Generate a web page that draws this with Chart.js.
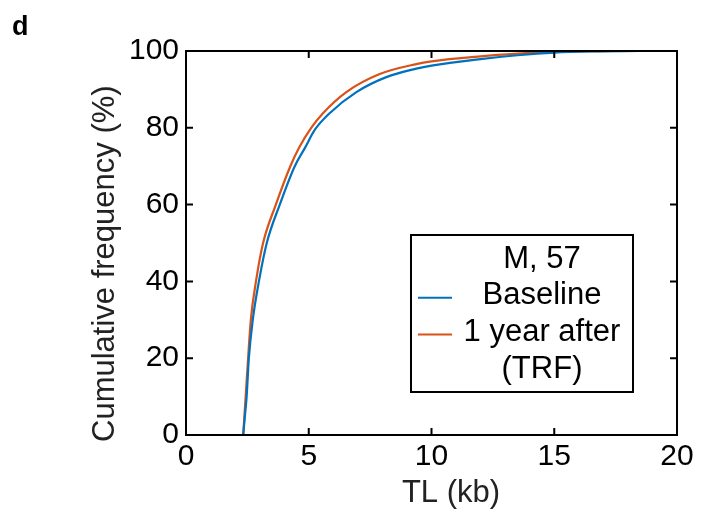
<!DOCTYPE html>
<html>
<head>
<meta charset="utf-8">
<script src="https://cdn.jsdelivr.net/npm/chart.js@4.4.3/dist/chart.umd.min.js"></script>
<style>
  html, body { margin: 0; padding: 0; background: #fff; }
  #wrap { width: 714px; height: 517px; }
</style>
</head>
<body>
<div id="wrap"><canvas id="cdf" width="714" height="517"></canvas></div>
<script>
// cumulative TL distribution
const baselineKb  = [2.33, 2.40, 2.47, 2.56, 2.72, 2.97, 3.29, 3.82, 4.43, 4.84, 5.25, 5.85, 6.94, 8.16, 9.38, 10, 12, 13.5, 15, 16.5, 18.5];
const baselinePct = [0, 5, 10, 20, 30, 40, 50, 60, 70, 74.7, 79.5, 83.8, 89.3, 93.2, 95.4, 96.2, 97.9, 98.9, 99.6, 99.9, 100];
const afterKb  = [2.33, 2.38, 2.43, 2.53, 2.64, 2.85, 3.14, 3.66, 4.25, 4.62, 5.1, 5.58, 6.53, 7.89, 9.38, 10, 12, 13.5, 15, 17.4];
const afterPct = [0, 5, 10, 20, 30, 40, 50, 60, 70, 75, 80, 83.8, 89.3, 94.0, 96.6, 97.3, 98.6, 99.3, 99.8, 100];

const seriesLabels = ['Baseline', ['1 year after', '(TRF)']];
const legendTitle = 'M, 57';
const panelLetter = 'd';
const xTitle = 'TL (kb)';
const yTitle = 'Cumulative frequency (%)';
const xTicks = [0, 5, 10, 15, 20];
const yTicks = [0, 20, 40, 60, 80, 100];

const FONT = '"Liberation Sans", Arial, Helvetica, sans-serif';
const BLUE = '#0072BD';
const ORANGE = '#D95319';

const toPoints = (xs, ys) => xs.map((x, i) => ({ x, y: ys[i] }));

// frame, inward ticks on all four sides, axis titles, legend box, panel letter
const decorations = {
  id: 'decorations',
  afterDraw(chart) {
    const { ctx, chartArea: a, scales } = chart;
    const tl = 7;
    ctx.save();
    ctx.strokeStyle = '#000';
    ctx.lineWidth = 2;
    ctx.strokeRect(a.left, a.top, a.right - a.left, a.bottom - a.top);
    ctx.beginPath();
    scales.x.ticks.forEach(t => {
      const px = scales.x.getPixelForValue(t.value);
      ctx.moveTo(px, a.bottom); ctx.lineTo(px, a.bottom - tl);
      ctx.moveTo(px, a.top); ctx.lineTo(px, a.top + tl);
    });
    scales.y.ticks.forEach(t => {
      const py = scales.y.getPixelForValue(t.value);
      ctx.moveTo(a.left, py); ctx.lineTo(a.left + tl, py);
      ctx.moveTo(a.right, py); ctx.lineTo(a.right - tl, py);
    });
    ctx.stroke();

    // axis titles (placed off-centre as in the original figure)
    ctx.fillStyle = '#222';
    ctx.font = '31px ' + FONT;
    ctx.textAlign = 'center';
    ctx.textBaseline = 'alphabetic';
    ctx.fillText(xTitle, a.left + 265, 502);
    ctx.save();
    ctx.translate(105, a.bottom + 7);
    ctx.rotate(-Math.PI / 2);
    ctx.textAlign = 'left';
    ctx.textBaseline = 'middle';
    ctx.fillText(yTitle, 0, 0);
    ctx.restore();

    // legend
    const bx = a.left + 225, by = a.top + 184, bw = 222, bh = 157;
    ctx.fillStyle = '#fff';
    ctx.fillRect(bx, by, bw, bh);
    ctx.strokeStyle = '#000';
    ctx.lineWidth = 2;
    ctx.strokeRect(bx, by, bw, bh);
    ctx.font = '31px ' + FONT;
    ctx.fillStyle = '#000';
    ctx.textAlign = 'center';
    ctx.textBaseline = 'middle';
    const cx = bx + 131;
    const lh = 36.7;
    let y = by + 24;
    ctx.fillText(legendTitle, cx, y);
    chart.data.datasets.forEach(ds => {
      y += lh;
      const lines = Array.isArray(ds.label) ? ds.label : [ds.label];
      ctx.strokeStyle = ds.borderColor;
      ctx.lineWidth = 2;
      ctx.beginPath();
      ctx.moveTo(bx + 7, y + 2); ctx.lineTo(bx + 41, y + 2);
      ctx.stroke();
      lines.forEach((ln, i) => {
        ctx.fillText(ln, cx, y);
        if (i < lines.length - 1) y += lh;
      });
    });

    ctx.font = 'bold 27px ' + FONT;
    ctx.textAlign = 'left';
    ctx.textBaseline = 'alphabetic';
    ctx.fillText(panelLetter, 12, 35);
    ctx.restore();
  }
};

new Chart(document.getElementById('cdf'), {
  type: 'line',
  data: {
    datasets: [
      { label: seriesLabels[0], data: toPoints(baselineKb, baselinePct), borderColor: BLUE, borderWidth: 2.2, pointRadius: 0, cubicInterpolationMode: 'monotone', fill: false },
      { label: seriesLabels[1], data: toPoints(afterKb, afterPct), borderColor: ORANGE, borderWidth: 2.2, pointRadius: 0, cubicInterpolationMode: 'monotone', fill: false }
    ]
  },
  options: {
    responsive: false,
    animation: false,
    layout: { padding: { left: 0, top: 51, right: 37, bottom: 0 } },
    plugins: { legend: { display: false }, tooltip: { enabled: false } },
    scales: {
      x: {
        type: 'linear',
        min: 0, max: 20,
        afterBuildTicks: s => { s.ticks = xTicks.map(v => ({ value: v })); },
        afterFit: s => { s.height = 82; },
        grid: { display: false, drawTicks: false },
        border: { display: false },
        ticks: { color: '#000', padding: 4, font: { family: FONT, size: 30 } }
      },
      y: {
        min: 0, max: 100,
        ticks: {
          stepSize: 10, color: '#000', padding: 7, font: { family: FONT, size: 30 },
          callback: v => (yTicks.includes(v) ? String(v) : '')
        },
        afterFit: s => { s.width = 186; },
        grid: { display: false, drawTicks: false },
        border: { display: false }
      }
    }
  },
  plugins: [decorations]
});
</script>
</body>
</html>
